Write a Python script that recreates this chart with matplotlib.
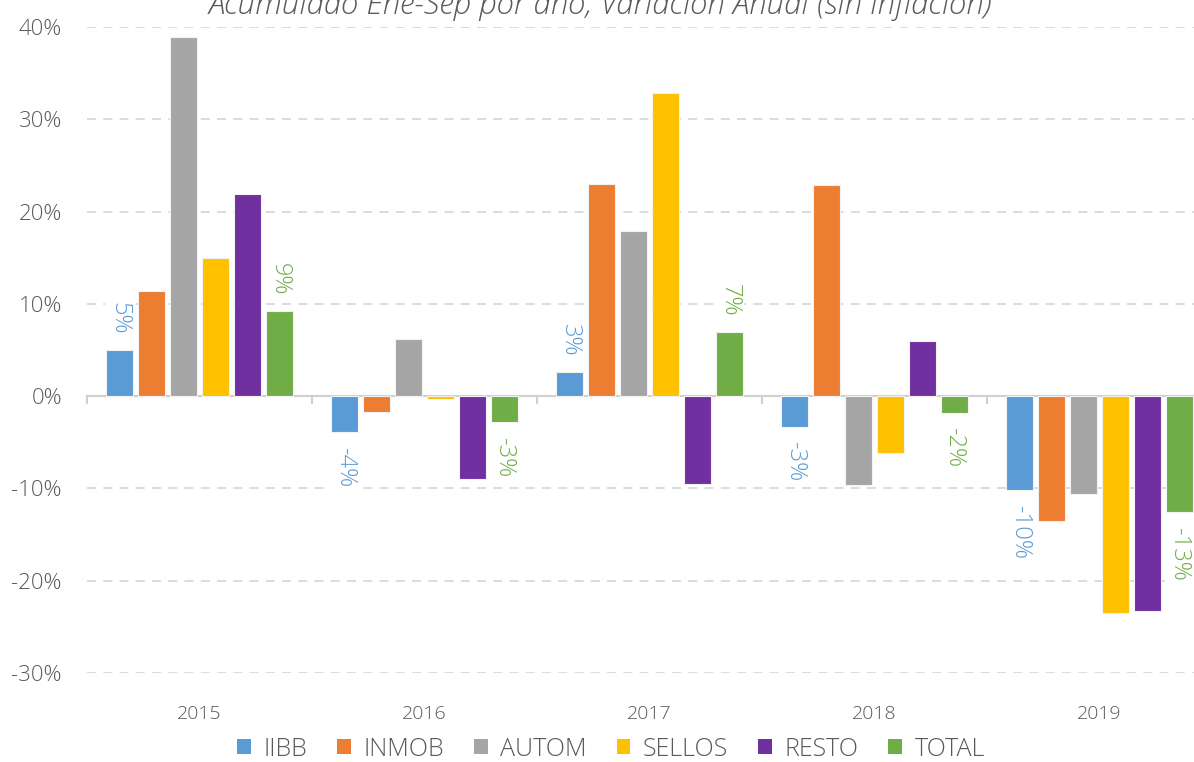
import matplotlib
matplotlib.use("Agg")
import matplotlib.pyplot as plt
import numpy as np
from matplotlib.patches import Patch

years = ["2015", "2016", "2017", "2018", "2019"]
series_names = ["IIBB", "INMOB", "AUTOM", "SELLOS", "RESTO", "TOTAL"]
iibb = [5.0, -3.9, 2.6, -3.3, -10.2]
inmob = [11.4, -1.7, 23.0, 22.9, -13.5]
autom = [38.9, 6.2, 17.9, -9.6, -10.6]
sellos = [15.0, -0.3, 32.9, -6.2, -23.5]
resto = [21.9, -9.0, -9.5, 6.0, -23.3]
total = [9.2, -2.8, 6.9, -1.8, -12.6]
colors = ["#5b9bd5", "#ed7d31", "#a5a5a5", "#ffc000", "#7030a0", "#70ad47"]
labeled = {"IIBB": "#5b9bd5", "TOTAL": "#70ad47"}
title = "Acumulado Ene-Sep por año, Variación Anual (sin inflación)"

plt.rcParams['font.family'] = ['Open Sans', 'DejaVu Sans']
FW = "light"

W, H = 1194, 762
fig = plt.figure(figsize=(W / 100, H / 100), dpi=100)
left_px, right_px = 87, 1194
top_px, bot_px = 27, 673
ax = fig.add_axes([left_px / W, 1 - bot_px / H, (right_px - left_px) / W, (bot_px - top_px) / H])

cat_px = 225.0
xmin = -0.5
xmax = xmin + (right_px - left_px) / cat_px
ax.set_xlim(xmin, xmax)
ax.set_ylim(-30, 40)

data = [iibb, inmob, autom, sellos, resto, total]
x = np.arange(len(years))
stride = 0.142
bw = 0.12
for i, (name, vals, c) in enumerate(zip(series_names, data, colors)):
    xs = x + (i - 2.5) * stride
    ax.bar(xs, vals, width=bw, color=c, edgecolor="#f2f2f2", linewidth=0.8, zorder=3)
    if name in labeled:
        for xi, v in zip(xs, vals):
            lab = f"{int(round(v))}%"
            off = 1.7
            if v >= 0:
                y = v + off
                va = "bottom"
            else:
                y = v - off
                va = "top"
            ax.text(xi, y, lab, rotation=270, ha="center", va=va, fontsize=17,
                    color=c, zorder=4, fontweight=FW,
                    bbox=dict(boxstyle="square,pad=0.1", fc="white", ec="none"))

yt = np.arange(-30, 41, 10)
ax.set_yticks(yt)
ax.set_yticklabels([f"{v}%" for v in yt], fontsize=16, color="#595959", fontweight=FW)
for v in yt:
    if v != 0:
        ax.axhline(v, color="#d9d9d9", linestyle=(0, (5, 4)), linewidth=1.3, zorder=1)
ax.axhline(0, color="#d0d0d0", linewidth=1.5, zorder=2)

ax.set_xticks(x)
ax.set_xticklabels(years, fontsize=14, color="#595959", fontweight=FW)
ax.tick_params(axis="both", length=0)
ax.tick_params(axis="x", pad=23)
ax.tick_params(axis="y", pad=18)

# category boundary tick marks on zero line
for b in np.arange(-0.5, xmax, 1.0):
    ax.plot([b, b], [0, -0.7], color="#d0d0d0", linewidth=1.5, zorder=2, clip_on=False)

for s in ax.spines.values():
    s.set_visible(False)

fig.text(0.503, 1 - 5 / H, title, ha="center", va="center", fontsize=22.5,
         style="italic", color="#595959", fontweight=FW)

handles = [Patch(facecolor=c, edgecolor="none") for c in colors]
fig.legend(handles, series_names, loc="center", bbox_to_anchor=(611 / W, 1 - 749 / H),
           ncol=6, frameon=False, prop={"size": 18, "weight": FW}, labelcolor="#595959",
           handlelength=0.55, handleheight=0.55, handletextpad=0.5, columnspacing=1.2)

fig.savefig("out.png", dpi=100)
